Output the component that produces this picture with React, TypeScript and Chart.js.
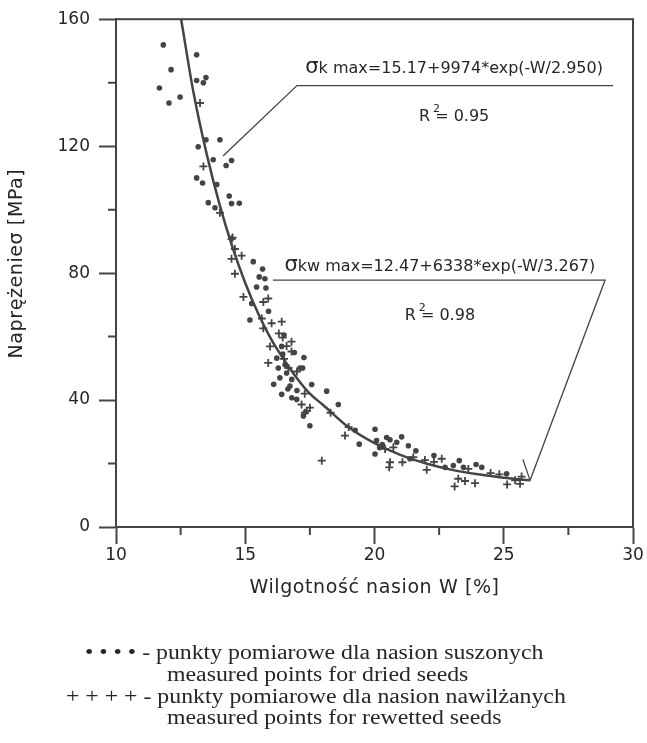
import React, { useEffect, useRef } from 'react';
import { Chart, registerables } from 'chart.js';

Chart.register(...registerables);

// ---------- data ----------
const xMajorTicks = [10, 15, 20, 25, 30];
const xMinorTicks = [12.5, 17.5, 22.5, 27.5];
const yMajorTicks = [0, 40, 80, 120, 160];
const yMinorTicks = [20, 60, 100, 140];

// dried seeds (dots)
const driedW = [11.83, 13.12, 12.13, 11.68, 12.48, 12.05, 13.12, 13.48, 13.38, 13.48, 14.02, 13.18, 13.76, 14.47, 14.26, 13.12, 13.35, 13.9, 14.38, 13.57, 14.47, 14.77, 13.83, 15.31, 15.67, 15.54, 15.76, 15.44, 15.8, 15.25, 15.18, 16.41, 17.27, 16.22, 16.54, 16.28, 17.12, 16.6, 16.34, 16.8, 17.57, 16.73, 18.15, 16.41, 16.8, 16.99, 18.6, 17.25, 17.5, 17.22, 19.25, 19.41, 20.02, 20.08, 20.47, 20.02, 20.86, 21.05, 21.31, 21.37, 22.73, 23.05, 23.28, 23.44, 23.93, 24.15, 25.11, 16.5, 16.9, 16.1, 17.0, 20.3, 20.6, 20.2, 21.6, 22.3, 15.9, 16.45, 16.65];
const driedS = [151.9, 148.8, 144.1, 138.3, 135.5, 133.6, 140.7, 141.6, 140.0, 122.0, 122.0, 119.8, 115.7, 115.5, 113.9, 110.0, 108.4, 107.9, 104.3, 102.2, 101.9, 102.0, 100.6, 83.6, 81.3, 78.8, 78.2, 75.6, 75.3, 70.4, 65.2, 56.9, 53.4, 53.2, 51.1, 50.1, 50.1, 48.5, 47.0, 46.5, 44.9, 44.4, 42.8, 41.8, 40.7, 40.2, 38.6, 35.0, 31.9, 50.1, 30.5, 26.1, 30.8, 27.2, 28.2, 23.0, 26.7, 28.4, 25.6, 21.5, 18.8, 19.4, 20.9, 18.8, 19.7, 18.8, 16.8, 60.5, 55.0, 45.0, 43.0, 26.0, 27.5, 25.0, 24.0, 22.5, 68.0, 54.5, 43.5];

// rewetted seeds (crosses)
const rewetW = [13.25, 13.38, 14.02, 14.51, 14.6, 14.47, 14.86, 14.47, 14.6, 14.93, 15.7, 15.89, 15.64, 16.02, 16.41, 15.7, 16.45, 16.79, 15.96, 16.79, 15.89, 16.67, 17.18, 17.5, 17.31, 18.86, 17.96, 17.38, 20.41, 20.73, 20.6, 20.57, 21.08, 21.95, 22.02, 22.6, 23.63, 23.24, 23.5, 23.89, 24.49, 25.13, 25.44, 25.63, 25.69, 24.83, 16.3, 16.6, 16.5, 17.0, 17.3, 18.3, 19.0, 23.1, 21.5, 22.3];
const rewetS = [133.6, 113.6, 99.0, 91.2, 87.6, 90.7, 85.5, 84.5, 79.8, 72.5, 70.9, 72.0, 65.7, 64.2, 64.7, 62.6, 59.7, 58.4, 56.9, 55.3, 51.7, 50.1, 38.6, 37.6, 36.0, 28.8, 20.9, 36.6, 24.6, 25.1, 20.4, 18.8, 20.4, 21.1, 18.0, 21.5, 18.3, 15.2, 14.5, 13.8, 17.0, 13.4, 14.7, 13.6, 15.9, 16.6, 61.0, 57.0, 53.0, 49.0, 42.0, 36.0, 31.5, 12.8, 22.0, 20.5];

// fitted curve
const fitW = [12.52, 13, 13.5, 14, 14.5, 15, 15.5, 16, 16.5, 17, 17.5, 18, 19, 20, 21, 22, 23, 24, 25, 26];
const fitS = [160, 136.8, 117.8, 101.8, 88.3, 76.9, 67.3, 59.2, 52.7, 46.9, 42.0, 38.5, 31.4, 26.4, 22.7, 20.0, 18.0, 16.6, 15.5, 14.7];

// leader lines of the equation labels
const kLeaderW = [14.14, 17.0, 29.23];
const kLeaderS = [116.9, 139.1, 139.1];
const kwLeaderW = [16.07, 28.92, 26.02, 25.74];
const kwLeaderS = [77.8, 77.8, 14.7, 21.3];

const xTitle = 'Wilgotność nasion W [%]';
const yTitle = 'Naprężenieσ [MPa]';
const eqK = { sub: 'k max=15.17+9974*exp(-W/2.950)', r2: '= 0.95' };
const eqKW = { sub: 'kw max=12.47+6338*exp(-W/3.267)', r2: '= 0.98' };
const legendLines = [
  '• • • • - punkty pomiarowe dla nasion suszonych',
  'measured points for dried seeds',
  '+ + + + - punkty pomiarowe dla nasion nawilżanych',
  'measured points for rewetted seeds',
];

// ---------- styles ----------
const LINE = '#444444';
const TEXT = '#262626';
const SANS = '"DejaVu Sans", Arial, sans-serif';
const SERIF = '"Liberation Serif", "Times New Roman", serif';

const toPts = (xs: number[], ys: number[]) => xs.map((x, i) => ({ x, y: ys[i] }));

const overlay = {
  id: 'overlay',
  afterDraw(chart: any) {
    const { ctx, chartArea: a, scales } = chart;
    const x = scales.x;
    const y = scales.y;
    ctx.save();
    // frame
    ctx.strokeStyle = LINE;
    ctx.lineWidth = 2;
    ctx.strokeRect(a.left, a.top, a.right - a.left, a.bottom - a.top);
    // minor ticks
    ctx.beginPath();
    xMinorTicks.forEach((v) => {
      const px = x.getPixelForValue(v);
      ctx.moveTo(px, a.bottom);
      ctx.lineTo(px, a.bottom + 8);
    });
    yMinorTicks.forEach((v) => {
      const py = y.getPixelForValue(v);
      ctx.moveTo(a.left, py);
      ctx.lineTo(a.left - 8, py);
    });
    ctx.stroke();

    ctx.fillStyle = TEXT;
    // axis titles
    ctx.font = `19px ${SANS}`;
    (ctx as any).letterSpacing = '0.6px';
    ctx.textAlign = 'center';
    ctx.textBaseline = 'middle';
    ctx.fillText(xTitle, (a.left + a.right) / 2, a.bottom + 61);
    ctx.save();
    ctx.translate(17, y.getPixelForValue(83));
    ctx.rotate(-Math.PI / 2);
    ctx.fillText(yTitle, 0, 0);
    ctx.restore();
    (ctx as any).letterSpacing = '0px';

    // equations
    const drawEq = (eq: { sub: string; r2: string }, cxv: number, cyv: number, rcy: number) => {
      const cx = x.getPixelForValue(cxv);
      const cy = y.getPixelForValue(cyv);
      ctx.textBaseline = 'alphabetic';
      ctx.textAlign = 'left';
      ctx.font = `21px ${SANS}`;
      const ws = ctx.measureText('σ').width;
      ctx.font = `16px ${SANS}`;
      const wr = ctx.measureText(eq.sub).width;
      const start = cx - (ws + wr) / 2;
      ctx.font = `21px ${SANS}`;
      ctx.fillText('σ', start, cy + 6);
      ctx.font = `16px ${SANS}`;
      ctx.fillText(eq.sub, start + ws, cy + 6);
      // R^2
      const ry = y.getPixelForValue(rcy);
      const wR = ctx.measureText('R ').width;
      const wv = ctx.measureText(eq.r2).width;
      const rs = cx - (wR + wv) / 2;
      ctx.fillText('R', rs, ry + 6);
      const wRonly = ctx.measureText('R').width;
      ctx.font = `11px ${SANS}`;
      ctx.fillText('2', rs + wRonly + 3, ry - 3);
      ctx.font = `16px ${SANS}`;
      ctx.fillText(eq.r2, rs + wR, ry + 6);
    };
    drawEq(eqK, 23.08, 145, 129.7);
    drawEq(eqKW, 22.53, 82.5, 67.2);

    // legend block below the chart
    ctx.font = `20px ${SERIF}`;
    ctx.textBaseline = 'middle';
    ctx.textAlign = 'left';
    const lefts = [85, 167, 66, 167];
    const tops = [654, 676, 698, 719];
    legendLines.forEach((t, i) => {
      ctx.save();
      ctx.translate(lefts[i], tops[i]);
      ctx.scale(1.19, 1);
      ctx.fillText(t, 0, 0);
      ctx.restore();
    });
    ctx.restore();
  },
};

export default function App() {
  const ref = useRef<HTMLCanvasElement | null>(null);
  useEffect(() => {
    if (!ref.current) return;
    const tickFont = { family: SANS, size: 17 };
    const chart = new Chart(ref.current, {
      type: 'scatter',
      data: {
        datasets: [
          {
            label: 'fit',
            data: toPts(fitW, fitS),
            showLine: true,
            borderColor: LINE,
            borderWidth: 2.5,
            pointRadius: 0,
            tension: 0.4,
            cubicInterpolationMode: 'monotone',
          } as any,
          {
            label: 'kLeader',
            data: toPts(kLeaderW, kLeaderS),
            showLine: true,
            borderColor: LINE,
            borderWidth: 1.3,
            pointRadius: 0,
          },
          {
            label: 'kwLeader',
            data: toPts(kwLeaderW, kwLeaderS),
            showLine: true,
            borderColor: LINE,
            borderWidth: 1.3,
            pointRadius: 0,
          },
          {
            label: 'dried',
            data: toPts(driedW, driedS),
            pointStyle: 'circle',
            pointRadius: 2.8,
            backgroundColor: LINE,
            borderWidth: 0,
          },
          {
            label: 'rewetted',
            data: toPts(rewetW, rewetS),
            pointStyle: 'cross',
            pointRadius: 4,
            borderColor: LINE,
            borderWidth: 1.8,
          },
        ],
      },
      options: {
        responsive: false,
        animation: false,
        layout: { padding: { top: 15, right: 14, left: 0, bottom: 0 } },
        plugins: { legend: { display: false }, tooltip: { enabled: false } },
        scales: {
          x: {
            type: 'linear',
            min: 10,
            max: 30,
            afterFit: (s: any) => {
              s.height = 216;
            },
            afterBuildTicks: (s: any) => {
              s.ticks = xMajorTicks.map((v) => ({ value: v }));
            },
            ticks: {
              font: tickFont,
              color: TEXT,
              padding: 1,
              maxRotation: 0,
              autoSkip: false,
              callback: (v: any) => String(v),
            },
            grid: {
              drawOnChartArea: false,
              tickLength: 17,
              tickWidth: 2,
              tickColor: LINE,
            },
            border: { display: true, color: LINE, width: 2 },
          },
          y: {
            type: 'linear',
            min: 0,
            max: 160,
            afterFit: (s: any) => {
              s.width = 116;
            },
            afterBuildTicks: (s: any) => {
              s.ticks = yMajorTicks.map((v) => ({ value: v }));
            },
            ticks: {
              font: tickFont,
              color: TEXT,
              padding: 9,
              autoSkip: false,
              callback: (v: any) => String(v),
            },
            grid: {
              drawOnChartArea: false,
              tickLength: 17,
              tickWidth: 2,
              tickColor: LINE,
            },
            border: { display: true, color: LINE, width: 2 },
          },
        },
      } as any,
      plugins: [overlay],
    });
    return () => chart.destroy();
  }, []);
  return (
    <div style={{ position: 'absolute', left: 0, top: 0, width: 647, height: 743, background: '#fff' }}>
      <canvas ref={ref} width={647} height={743} />
    </div>
  );
}
